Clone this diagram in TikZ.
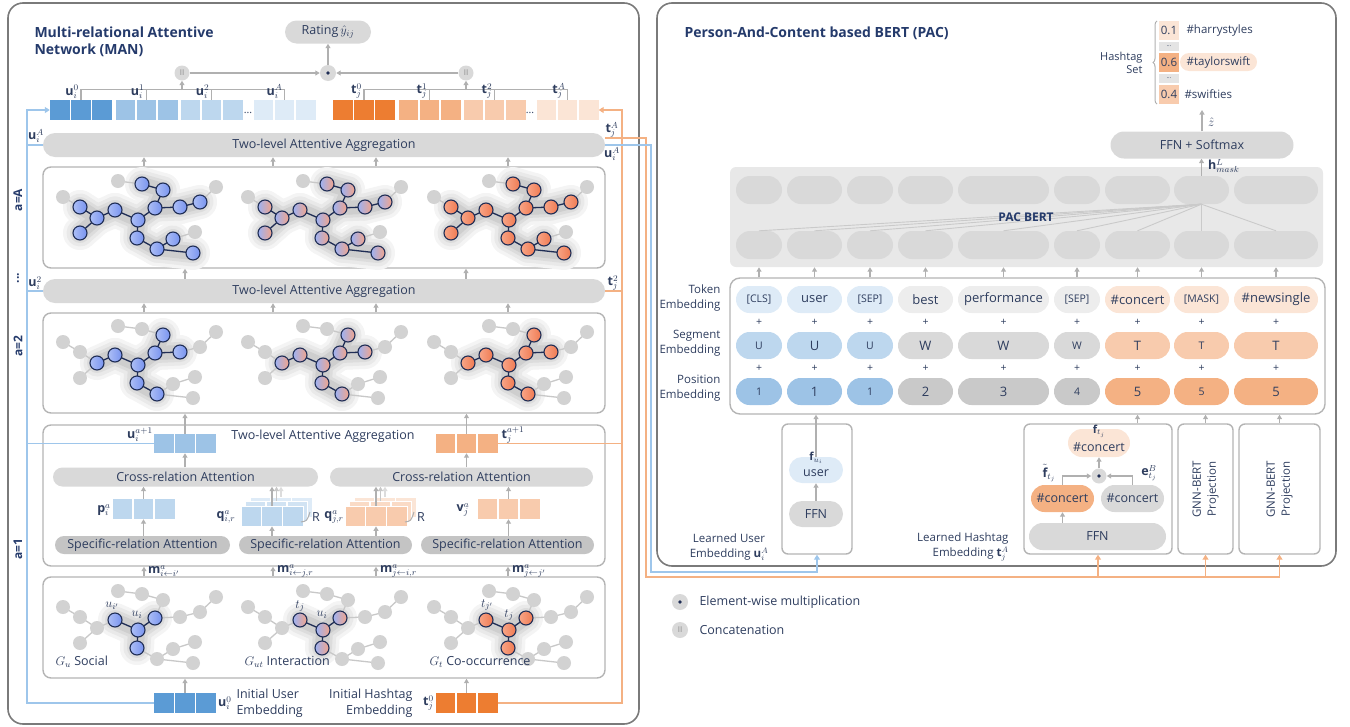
\RequirePackage{fix-cm}
\documentclass[tikz,border=0pt]{standalone}
\usepackage{fontspec}
\setmainfont{Open Sans}
\usetikzlibrary{arrows.meta,decorations.pathreplacing,calc}
\definecolor{txt}{HTML}{2E3D5E}
\definecolor{ttl}{HTML}{243A6B}
\definecolor{pbord}{HTML}{B4B4B4}
\definecolor{obord}{HTML}{7A7A7A}
\definecolor{barc}{HTML}{D9D9D9}
\definecolor{sbar}{HTML}{C4C4C4}
\definecolor{arrc}{HTML}{B0B0B0}
\definecolor{arrg1}{HTML}{C8C8C8}
\definecolor{arrg2}{HTML}{DCDCDC}
\definecolor{ub1}{HTML}{5B9BD5}
\definecolor{ub2}{HTML}{9DC3E6}
\definecolor{ub3}{HTML}{BDD7EE}
\definecolor{ub4}{HTML}{DEEBF7}
\definecolor{to1}{HTML}{ED7D31}
\definecolor{to2}{HTML}{F4B183}
\definecolor{to3}{HTML}{F8CBAD}
\definecolor{to4}{HTML}{FBE5D6}
\definecolor{lblue}{HTML}{9EC6EB}
\definecolor{lorange}{HTML}{F4B183}
\definecolor{navy}{HTML}{1F2D55}
\definecolor{gnodec}{HTML}{D2D2D2}
\definecolor{gedgec}{HTML}{C8C8C8}
\definecolor{gl1}{HTML}{F4F4F4}
\definecolor{gl2}{HTML}{E9E9E9}
\definecolor{gl3}{HTML}{DCDCDC}
\definecolor{gl4}{HTML}{CECECE}
\definecolor{bertbg}{HTML}{E8E8E8}
\definecolor{fanc}{HTML}{CACACA}
\definecolor{lgray}{HTML}{EDEDED}
\definecolor{pgray}{HTML}{C9C9C9}
\definecolor{catcol}{HTML}{8C8C8C}
\definecolor{nbl1}{HTML}{ADBFF6}
\definecolor{nbl2}{HTML}{7893EF}
\definecolor{nmx1}{HTML}{9DB2F3}
\definecolor{nmx2}{HTML}{F2A48A}
\definecolor{nor1}{HTML}{F8A688}
\definecolor{nor2}{HTML}{F07A52}
\newcommand{\fnb}{\fontsize{12.5}{16}\selectfont}
\newcommand{\fsm}{\fontsize{10.5}{12}\selectfont}
\newcommand{\fsl}{\fontsize{11.5}{15}\selectfont}
\newcommand{\ftk}{\fontsize{13}{15}\selectfont}
\newcommand{\ttlf}{\bfseries\fontsize{14}{17}\selectfont}
\newcommand{\catt}{\textcolor{catcol}{\fontsize{8}{8}\selectfont II}}
\tikzset{
 arr/.style={draw=arrc, line width=1.1, -{Triangle[length=4.5pt,width=5pt]}},
 outer/.style={draw=obord, line width=1.6, rounded corners=15, inner sep=0},
 panelbox/.style={draw=pbord, line width=1.4, rounded corners=8, inner sep=0, fill=white},
 bar/.style={fill=barc, rounded corners=12, minimum height=24, inner sep=0},
 pill/.style={rounded corners=#1, inner sep=0},
 cells/.style={fill=#1, minimum width=62, minimum height=20, inner sep=0,
   path picture={\draw[white,line width=1.5pt]
     ([xshift=-10.33pt]path picture bounding box.north) -- ([xshift=-10.33pt]path picture bounding box.south)
     ([xshift=10.33pt]path picture bounding box.north) -- ([xshift=10.33pt]path picture bounding box.south);}},
 ml/.style={font=\fontsize{12.5}{13}\selectfont, inner sep=1},
 opc/.style={circle, fill=barc, minimum size=16, inner sep=0},
 bline/.style={draw=lblue, line width=1.8},
 oline/.style={draw=lorange, line width=1.8},
 bltip/.style={-{Triangle[length=5pt,width=6pt]}},
 brk/.style={draw=arrc, line width=1.1},
 gedge/.style={draw=gedgec, line width=1.3},
 cedge/.style={draw=navy, line width=1.3},
 gnode/.style={circle, fill=gnodec, minimum size=14, inner sep=0},
 cnode/.style={circle, draw=navy, line width=1.1, minimum size=14, inner sep=0},
 blueN/.style={left color=nbl1, right color=nbl2},
 mixN/.style={left color=nmx1, right color=nmx2},
 orgN/.style={left color=nor1, right color=nor2},
 fan/.style={draw=fanc, line width=0.9},
 boxb/.style={draw=pbord, line width=1.4, rounded corners=6, inner sep=0},
}
\newcommand{\mkgraph}[6]{%
\begin{scope}[shift={(#2,#3)}]
\foreach \k/\px/\py in {1/118/181,2/142/184,3/163/190,4/63/197,5/80/207,6/97/218,7/115/210,8/138/220,9/155/208,10/180/207,11/200/202,12/216/187,13/80/233,14/137/238,15/157/249,16/173/239,17/195/232,18/193/253}{\coordinate (#1n\k) at (\px,\py);}
\foreach \gc/\lw in {gl1/34,gl2/27,gl3/20,gl4/14}{%
 \foreach \a/\b in {#5}{\draw[\gc, line width=\lw, line cap=round] (#1n\a) -- (#1n\b);}}
\foreach \a/\b in {1/2,2/3,3/9,4/5,5/6,6/7,7/8,8/9,9/10,10/11,11/12,6/13,8/14,14/15,15/16,16/17,15/18}{\draw[gedge] (#1n\a) -- (#1n\b);}
\foreach \k in {1,...,18}{\node[gnode] (#1v\k) at (#1n\k) {};}
\foreach \a/\b in {#5}{\draw[cedge] (#1n\a) -- (#1n\b);}
\foreach \k in {#4}{\node[cnode,#6] (#1c\k) at (#1n\k) {};}
\end{scope}}
\newcommand{\tk}[7]{\node[pill=13.5, fill=#5, minimum width=#3, minimum height=27, font=#7] (#1) at (#2,#4) {#6};}
\begin{document}
\begin{tikzpicture}[x=1pt,y=-1pt,every node/.style={text=txt},font=\fnb]
\useasboundingbox (0,0) rectangle (1350,726);
% ================= LEFT PANEL =================
\node[outer, minimum width=631, minimum height=721] (L) at (323.5,363.5) {};
\node[anchor=west, align=left, font=\ttlf, text=ttl] (tL) at (31,42) {Multi-relational Attentive\\Network (MAN)};
\node[pill=11.5, fill=barc, minimum width=86, minimum height=23] (rating) at (328,32) {Rating\,$\hat{y}_{ij}$};
\node[opc] (dotop) at (328,73) {};
\fill[navy] (dotop) circle (1.8);
\node[opc, minimum size=15] (catU) at (182,73) {\catt};
\node[opc, minimum size=15] (catT) at (466,73) {\catt};
\draw[arr] (catU) -- (dotop);
\draw[arr] (catT) -- (dotop);
\draw[arr] (dotop) -- (rating);
% embedding row
\node[cells=ub1] (u0) at (81,110) {};
\node[cells=ub2] (u1) at (146.5,110) {};
\node[cells=ub3] (u2) at (211.5,110) {};
\node[cells=ub4] (uA) at (284.5,110) {};
\node[font=\fsm] (udots) at (248,113) {...};
\node[cells=to1] (t0) at (364,110) {};
\node[cells=to2] (t1) at (429.5,110) {};
\node[cells=to3] (t2) at (494.5,110) {};
\node[cells=to4] (tA) at (567.5,110) {};
\node[font=\fsm] (tdots) at (530,113) {...};
\draw[brk] (u0.north) -- ++(0,-10) -| (uA.north);
\draw[brk] (u1.north) -- ++(0,-10);
\draw[brk] (u2.north) -- ++(0,-10);
\draw[brk] (t0.north) -- ++(0,-10) -| (tA.north);
\draw[brk] (t1.north) -- ++(0,-10);
\draw[brk] (t2.north) -- ++(0,-10);
\coordinate (brU) at (182,90);
\coordinate (brT) at (466,90);
\draw[arr] (brU) -- (catU);
\draw[arr] (brT) -- (catT);
\node[ml, anchor=south east] (lu0) at ([xshift=-1pt]u0.north) {$\mathbf{u}_i^0$};
\node[ml, anchor=south east] (lu1) at ([xshift=-1pt]u1.north) {$\mathbf{u}_i^1$};
\node[ml, anchor=south east] (lu2) at ([xshift=-1pt]u2.north) {$\mathbf{u}_i^2$};
\node[ml, anchor=south east] (luA) at ([xshift=-1pt]uA.north) {$\mathbf{u}_i^A$};
\node[ml, anchor=south east] (lt0) at ([xshift=-1pt]t0.north) {$\mathbf{t}_j^0$};
\node[ml, anchor=south east] (lt1) at ([xshift=-1pt]t1.north) {$\mathbf{t}_j^1$};
\node[ml, anchor=south east] (lt2) at ([xshift=-1pt]t2.north) {$\mathbf{t}_j^2$};
\node[ml, anchor=south east] (ltA) at ([xshift=-1pt]tA.north) {$\mathbf{t}_j^A$};
% containers
\node[bar, minimum width=562] (bar1) at (324,145) {Two-level Attentive Aggregation};
\node[panelbox, minimum width=562, minimum height=101] (pA) at (324,217.5) {};
\node[bar, minimum width=562] (bar2) at (324,291) {Two-level Attentive Aggregation};
\node[panelbox, minimum width=562, minimum height=100] (p2) at (324,363) {};
\node[panelbox, minimum width=562, minimum height=101] (p1) at (324,627.5) {};
% side labels
\node[rotate=90, font=\bfseries\fontsize{12}{14}\selectfont, text=ttl] (aA) at (18,200) {a=A};
\node[rotate=90, font=\bfseries\fontsize{12}{14}\selectfont, text=ttl] (aD) at (18,278) {...};
\node[rotate=90, font=\bfseries\fontsize{12}{14}\selectfont, text=ttl] (a2) at (18,346) {a=2};
\node[rotate=90, font=\bfseries\fontsize{12}{14}\selectfont, text=ttl] (a1) at (18,549) {a=1};
% graphs
\mkgraph{ga1}{0}{0}{2,3,5,6,7,8,9,10,11,13,14,15,16,18}{2/3,3/9,5/6,6/7,7/8,8/9,9/10,10/11,6/13,8/14,14/15,15/16,15/18}{blueN}
\mkgraph{ga2}{185}{0}{2,3,5,6,7,8,9,10,11,13,14,15,16,18}{2/3,3/9,5/6,6/7,7/8,8/9,9/10,10/11,6/13,8/14,14/15,15/16,15/18}{mixN}
\mkgraph{ga3}{371}{0}{2,3,5,6,7,8,9,10,11,13,14,15,16,18}{2/3,3/9,5/6,6/7,7/8,8/9,9/10,10/11,6/13,8/14,14/15,15/16,15/18}{orgN}
\mkgraph{gb1}{0}{145}{3,6,7,8,9,10,14,15}{3/9,6/7,7/8,8/9,9/10,8/14,14/15}{blueN}
\mkgraph{gb2}{185}{145}{3,6,7,8,9,10,14,15}{3/9,6/7,7/8,8/9,9/10,8/14,14/15}{mixN}
\mkgraph{gb3}{371}{145}{3,6,7,8,9,10,14,15}{3/9,6/7,7/8,8/9,9/10,8/14,14/15}{orgN}
\mkgraph{gc1}{0}{410}{7,8,9,14}{7/8,8/9,8/14}{blueN}
\mkgraph{gc2}{185}{410}{7,8,9,14}{7/8,8/9,8/14}{mixN}
\mkgraph{gc3}{371}{410}{7,8,9,14}{7/8,8/9,8/14}{orgN}
\node[ml] (lgc1a) at (112,606) {$u_{i'}$};
\node[ml] (lgc1b) at (137,615) {$u_i$};
\node[ml] (lgc2a) at (300,606) {$t_j$};
\node[ml] (lgc2b) at (322,615) {$u_i$};
\node[ml] (lgc3a) at (487,605) {$t_{j'}$};
\node[ml] (lgc3b) at (509,615) {$t_j$};
\node[anchor=west] (gla) at (52,662) {$G_u$ Social};
\node[anchor=west] (glb) at (241,662) {$G_{ut}$ Interaction};
\node[anchor=west] (glc) at (426,662) {$G_t$ Co-occurrence};
\node[panelbox, minimum width=562, minimum height=141] (box1) at (324,495.5) {};
% column coordinates
\coordinate (c1) at (144,0);
\coordinate (c2) at (273,0);
\coordinate (c3) at (376,0);
\coordinate (c4) at (508,0);
\coordinate (cu) at (185,0);
\coordinate (ct) at (466,0);
\foreach \cc in {c1,c2,c3,c4}{
 \draw[arr] (pA.north -| \cc) -- (bar1.south -| \cc);
 \draw[arr] (p2.north -| \cc) -- (bar2.south -| \cc);
 \draw[arr] (p1.north -| \cc) -- (box1.south -| \cc);}
\foreach \cc in {cu,ct}{\draw[arr] (bar2.north -| \cc) -- (pA.south -| \cc);}
% box 1 content
\node[cells=ub2, minimum height=19] (uap1) at (185,443.5) {};
\node[ml] (luap1) at (140,435) {$\mathbf{u}_i^{a+1}$};
\node (tla) at (323,436) {Two-level Attentive Aggregation};
\node[cells=to2, minimum height=19] (tap1) at (466.5,443.5) {};
\node[ml] (ltap1) at (513,435) {$\mathbf{t}_j^{a+1}$};
\node[pill=9.5, fill=barc, minimum width=265, minimum height=19] (crL) at (185.5,477) {Cross-relation Attention};
\node[pill=9.5, fill=barc, minimum width=263, minimum height=19] (crR) at (461.5,477) {Cross-relation Attention};
\node[pill=9, fill=sbar, minimum width=175, minimum height=18] (spL) at (142.5,545) {Specific-relation Attention};
\node[pill=9, fill=sbar, minimum width=173, minimum height=18] (spM) at (325.5,545) {Specific-relation Attention};
\node[pill=9, fill=sbar, minimum width=173, minimum height=18] (spR) at (507.5,545) {Specific-relation Attention};
\node[cells=ub3] (pblk) at (143.5,509) {};
\node[ml] (lp) at (104,510) {$\mathbf{p}_i^a$};
\node[cells=ub4, draw=white, line width=0.8] (qi2) at (281,507) {};
\node[cells=ub4!60!ub3, draw=white, line width=0.8] (qi1) at (276.5,511.5) {};
\node[cells=ub3, draw=white, line width=0.8] (qi0) at (272,516) {};
\node[ml] (lqi) at (226,517) {$\mathbf{q}_{i,r}^a$};
\node (Ri) at (316,517) {R};
\draw[arrc, line width=1] (301,522) .. controls (307,521) .. (310,512);
\node[cells=to4, draw=white, line width=0.8] (qj2) at (385,507) {};
\node[cells=to4!60!to3, draw=white, line width=0.8] (qj1) at (380.5,511.5) {};
\node[cells=to3, draw=white, line width=0.8] (qj0) at (376,516) {};
\node[ml] (lqj) at (334,517) {$\mathbf{q}_{j,r}^a$};
\node (Rj) at (421,517) {R};
\draw[arrc, line width=1] (405,522) .. controls (411,521) .. (414,512);
\node[cells=to3] (vblk) at (508.5,509) {};
\node[ml] (lv) at (463,510) {$\mathbf{v}_j^a$};
\draw[arr] (spL.north -| pblk) -- (pblk.south);
\draw[arr] (spM.north -| qi0) -- (qi0.south);
\draw[arr] (spM.north -| qj0) -- (qj0.south);
\draw[arr] (spR.north -| vblk) -- (vblk.south);
\draw[arr] (pblk.north) -- (crL.south -| pblk);
\draw[arr] (vblk.north) -- (crR.south -| vblk);
\draw[arr, draw=arrg2] (qi2.north) -- (crL.south -| qi2);
\draw[arr, draw=arrg1] (qi1.north) -- (crL.south -| qi1);
\draw[arr] (qi0.north) -- (crL.south -| qi0);
\draw[arr, draw=arrg2] (qj2.north) -- (crR.south -| qj2);
\draw[arr, draw=arrg1] (qj1.north) -- (crR.south -| qj1);
\draw[arr] (qj0.north) -- (crR.south -| qj0);
\draw[arr] (crL.north -| uap1) -- (uap1.south);
\draw[arr] (crR.north -| tap1) -- (tap1.south);
\draw[arr] (uap1.north) -- (p2.south -| uap1);
\draw[arr] (tap1.north) -- (p2.south -| tap1);
\node[ml, anchor=west] (m1) at (147,571) {$\mathbf{m}_{i\leftarrow i'}^a$};
\node[ml, anchor=west] (m2) at (276,571) {$\mathbf{m}_{i\leftarrow j,r}^a$};
\node[ml, anchor=west] (m3) at (379,571) {$\mathbf{m}_{j\leftarrow i,r}^a$};
\node[ml, anchor=west] (m4) at (511,571) {$\mathbf{m}_{j\leftarrow j'}^a$};
% initial embeddings
\node[cells=ub1] (uinit) at (185,703) {};
\node[ml, anchor=west] (luinit) at (217,703) {$\mathbf{u}_i^0$};
\node[anchor=west, align=left] (tuinit) at (233,703) {Initial User\\Embedding};
\node[cells=to1] (tinit) at (466.5,703) {};
\node[ml, anchor=east] (ltinit) at (435,703) {$\mathbf{t}_j^0$};
\node[anchor=east, align=right] (ttinit) at (416,703) {Initial Hashtag\\Embedding};
\draw[arr] (uinit.north) -- (p1.south -| uinit);
\draw[arr] (tinit.north) -- (p1.south -| tinit);
% side links
\coordinate (lbx) at (27,400);
\coordinate (rbx) at (622,400);
\coordinate (lbu) at (27,443.5);
\coordinate (rbu) at (622,443.5);
\draw[bline, bltip] (uinit.west) -| (lbx) |- (u0.west);
\draw[bline] (lbu) -- (uap1.west);
\draw[bline] (lbx |- bar2.west) -- (bar2.west);
\draw[bline] (lbx |- bar1.west) -- (bar1.west);
\draw[oline, bltip] (tinit.east) -| (rbx) |- (tA.east);
\draw[oline] (tap1.east) -- (rbu);
\draw[oline] (bar2.east) -- (rbx |- bar2.east);
\node[ml] (lsuA) at (36,136) {$\mathbf{u}_i^A$};
\node[ml] (lsu2) at (35,283) {$\mathbf{u}_i^2$};
\node[ml] (lstA) at (612,130) {$\mathbf{t}_j^A$};
\node[ml] (lsuA2) at (612,154) {$\mathbf{u}_i^A$};
\node[ml] (lst2) at (613,283) {$\mathbf{t}_j^2$};
% ================= RIGHT PANEL =================
\node[outer, minimum width=679, minimum height=563] (R) at (996.5,284.5) {};
\node[anchor=west, font=\ttlf, text=ttl] (tR) at (681,33) {Person-And-Content based BERT (PAC)};
\node[fill=bertbg, rounded corners=6, minimum width=593, minimum height=100, inner sep=0] (bert) at (1026.5,217) {};
\node[draw=pbord, line width=1.4, rounded corners=10, minimum width=595, minimum height=136, inner sep=0] (emb) at (1027.5,346) {};
\foreach \i/\cx/\ww in {1/759/46,2/814.5/55,3/870/46,4/925.5/55,5/1003.5/91,6/1077/46,7/1137.5/65,8/1201.5/55,9/1276/84}{
 \node[pill=14, fill=barc, minimum width=\ww, minimum height=28] (bt\i) at (\cx,190) {};
 \node[pill=14, fill=barc, minimum width=\ww, minimum height=28] (bb\i) at (\cx,245) {};
 \node[font=\fsm] (pa\i) at (\cx,322) {+};
 \node[font=\fsm] (pb\i) at (\cx,368) {+};
}
\foreach \i in {1,...,9}{\draw[fan] (bt8.south) -- (bb\i.north);}
\foreach \i in {1,...,9}{\draw[arr] (emb.north -| bb\i) -- (bert.south -| bb\i);}
\node[font=\bfseries\fontsize{12}{14}\selectfont, text=ttl] (pacb) at (1026,217) {PAC BERT};
\tk{tk1}{759}{46}{299.5}{ub4}{[CLS]}{\fsm}
\tk{tk2}{814.5}{55}{299.5}{ub4}{user}{\ftk}
\tk{tk3}{870}{46}{299.5}{ub4}{[SEP]}{\fsm}
\tk{tk4}{925.5}{55}{299.5}{lgray}{best}{\ftk}
\tk{tk5}{1003.5}{91}{299.5}{lgray}{performance}{\ftk}
\tk{tk6}{1077}{46}{299.5}{lgray}{[SEP]}{\fsm}
\tk{tk7}{1137.5}{65}{299.5}{to4}{\#concert}{\ftk}
\tk{tk8}{1201.5}{55}{299.5}{to4}{[MASK]}{\fsm}
\tk{tk9}{1276}{84}{299.5}{to4}{\#newsingle}{\ftk}
\tk{sg1}{759}{46}{345.5}{ub3}{U}{\fsm}
\tk{sg2}{814.5}{55}{345.5}{ub3}{U}{\ftk}
\tk{sg3}{870}{46}{345.5}{ub3}{U}{\fsm}
\tk{sg4}{925.5}{55}{345.5}{barc}{W}{\ftk}
\tk{sg5}{1003.5}{91}{345.5}{barc}{W}{\ftk}
\tk{sg6}{1077}{46}{345.5}{barc}{W}{\fsm}
\tk{sg7}{1137.5}{65}{345.5}{to3}{T}{\ftk}
\tk{sg8}{1201.5}{55}{345.5}{to3}{T}{\fsm}
\tk{sg9}{1276}{84}{345.5}{to3}{T}{\ftk}
\tk{ps1}{759}{46}{391.5}{ub2}{1}{\fsm}
\tk{ps2}{814.5}{55}{391.5}{ub2}{1}{\ftk}
\tk{ps3}{870}{46}{391.5}{ub2}{1}{\fsm}
\tk{ps4}{925.5}{55}{391.5}{pgray}{2}{\ftk}
\tk{ps5}{1003.5}{91}{391.5}{pgray}{3}{\ftk}
\tk{ps6}{1077}{46}{391.5}{pgray}{4}{\fsm}
\tk{ps7}{1137.5}{65}{391.5}{to2}{5}{\ftk}
\tk{ps8}{1201.5}{55}{391.5}{to2}{5}{\fsm}
\tk{ps9}{1276}{84}{391.5}{to2}{5}{\ftk}
\node[anchor=east, align=right, font=\fsl] (rl1) at (724,298) {Token\\Embedding};
\node[anchor=east, align=right, font=\fsl] (rl2) at (724,343) {Segment\\Embedding};
\node[anchor=east, align=right, font=\fsl] (rl3) at (724,388) {Position\\Embedding};
% FFN + softmax & hashtag set
\node[pill=13.5, fill=barc, minimum width=183, minimum height=27] (ffnS) at (1202,145) {FFN + Softmax};
\draw[arr] (bt8.north) -- (ffnS.south -| bt8);
\node[ml, anchor=west] (lh) at (1207,166) {$\mathbf{h}_{mask}^L$};
\coordinate (zend) at (1202,110);
\draw[arr] (ffnS.north) -- (zend);
\node[ml, anchor=west] (lz) at (1207,122) {$\hat{z}$};
\node[fill=to4, minimum width=20, minimum height=19, inner sep=0, font=\fsl] (hv1) at (1169,30.5) {0.1};
\node[fill=barc!70!white, minimum width=20, minimum height=9, inner sep=0, font=\fontsize{6}{6}\selectfont] (hd1) at (1169,46.5) {...};
\node[fill=to2, minimum width=20, minimum height=19, inner sep=0, font=\fsl] (hv2) at (1169,62.5) {0.6};
\node[fill=barc!70!white, minimum width=20, minimum height=9, inner sep=0, font=\fontsize{6}{6}\selectfont] (hd2) at (1169,78) {...};
\node[fill=to3, minimum width=20, minimum height=19, inner sep=0, font=\fsl] (hv3) at (1169,94) {0.4};
\node[anchor=west, font=\fsl] (hn1) at (1183,31) {\#harrystyles};
\node[pill=9, fill=to4, minimum width=77, minimum height=18, font=\fsl] (hn2) at (1218.5,62) {\#taylorswift};
\node[anchor=west, font=\fsl] (hn3) at (1181,94) {\#swifties};
\coordinate (brb) at (1157,104);
\coordinate (brt) at (1157,21);
\draw[draw=arrc, line width=1, decorate, decoration={brace, amplitude=4pt}] (brb) -- (brt);
\node[anchor=east, align=right, font=\fontsize{11}{13.5}\selectfont] (hset) at (1146,63) {Hashtag\\Set};
% learned user embedding
\node[boxb, minimum width=70, minimum height=130] (ubox) at (817,489) {};
\node[pill=13, fill=ub4, minimum width=54, minimum height=26] (upill) at (816,470) {};
\node (utx) at (816,473) {user};
\node[ml, font=\fontsize{11}{11}\selectfont] (lfu) at (816,458) {$\mathbf{f}_{u_i}$};
\node[pill=13, fill=barc, minimum width=54, minimum height=26] (ffnU) at (816,514) {FFN};
\draw[arr] (ffnU) -- (upill);
\draw[arr] (upill.north) -- (emb.south -| upill);
\node[align=center, font=\fsl] (lue) at (729,547) {Learned User\\Embedding $\mathbf{u}_i^A$};
% learned hashtag embedding
\node[boxb, minimum width=148, minimum height=130] (hbox) at (1098,489) {};
\node[pill=14, fill=to4, minimum width=62, minimum height=28] (ftp) at (1099,443) {};
\node (ftx) at (1099,447) {\#concert};
\node[ml, font=\fontsize{11}{11}\selectfont] (lft) at (1099,431) {$\mathbf{f}_{t_j}$};
\node[opc, minimum size=15] (dotH) at (1099,476) {};
\fill[navy] (dotH) circle (1.8);
\node[pill=13.5, fill=to2, minimum width=63, minimum height=27] (ftl) at (1062.5,498.5) {\#concert};
\node[pill=13.5, fill=barc, minimum width=63, minimum height=27] (ebr) at (1132.5,498.5) {\#concert};
\node[pill=13.5, fill=barc, minimum width=137, minimum height=27] (ffnH) at (1097.5,536.5) {FFN};
\draw[arr] (ffnH.north -| ftl) -- (ftl.south);
\draw[arr] (ftl.north) |- (dotH.west);
\draw[arr] (ebr.north) |- (dotH.east);
\draw[arr] (dotH.north) -- (ftp.south);
\draw[arr] (hbox.north -| tk7) -- (emb.south -| tk7);
\node[ml] (lftl) at (1049,473) {$\tilde{\mathbf{f}}_{t_j}$};
\node[ml] (lebr) at (1149,473) {$\mathbf{e}_{t_j}^B$};
\node[boxb, minimum width=55, minimum height=130] (gnn1) at (1205.5,489) {};
\node[rotate=90, align=center, font=\fsl] (gnn1t) at (gnn1) {GNN-BERT\\Projection};
\node[boxb, minimum width=81, minimum height=130] (gnn2) at (1279.5,489) {};
\node[rotate=90, align=center, font=\fsl] (gnn2t) at (gnn2) {GNN-BERT\\Projection};
\draw[arr] (gnn1.north) -- (emb.south -| gnn1);
\draw[arr] (gnn2.north) -- (emb.south -| gnn2);
\node[anchor=east, align=right, font=\fsl] (lhe) at (1012,547) {Learned Hashtag\\Embedding $\mathbf{t}_j^A$};
% long connectors
\coordinate (oc) at (646,577);
\coordinate (bc) at (651,572);
\draw[oline] ([yshift=7pt]bar1.east) -| (oc) -- (gnn2.south |- oc);
\draw[oline, bltip] (hbox.south |- oc) -- (hbox.south);
\draw[oline, bltip] (gnn1.south |- oc) -- (gnn1.south);
\draw[oline, bltip] (gnn2.south |- oc) -- (gnn2.south);
\draw[bline, bltip] (bar1.east) -| (bc) -| (ubox.south);
% legend
\node[opc] (lgdot) at (680,602) {};
\fill[navy] (lgdot) circle (1.8);
\node[anchor=west] (lgt1) at (696,602) {Element-wise multiplication};
\node[opc] (lgcat) at (680,630) {\catt};
\node[anchor=west] (lgt2) at (696,630) {Concatenation};
\end{tikzpicture}
\end{document}
